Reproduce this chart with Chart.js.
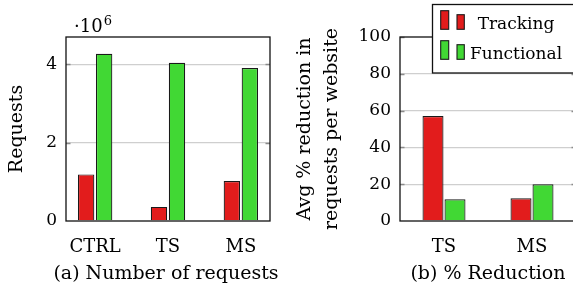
<!DOCTYPE html>
<html>
<head>
<meta charset="utf-8">
<script src="https://cdn.jsdelivr.net/npm/chart.js@4/dist/chart.umd.min.js"></script>
<style>
  html, body { margin:0; padding:0; background:#fff; overflow:hidden; width:573px; height:298px; }
  #wrapA { position:absolute; left:0; top:0; width:290px; height:298px; }
  #wrapB { position:absolute; left:280px; top:0; width:300px; height:298px; }
  .cap { position:absolute; font-family:"DejaVu Serif", serif; font-size:19px; line-height:22px; color:#000; white-space:nowrap; text-align:center; }
</style>
</head>
<body>
<div id="wrapA"><canvas id="chartA" width="290" height="298"></canvas></div>
<div id="wrapB"><canvas id="chartB" width="300" height="298"></canvas></div>
<div class="cap" id="capA" style="left:16px; width:300px; top:261px;">(a) Number of requests</div>
<div class="cap" id="capB" style="left:338px; width:300px; top:261px;">(b) % Reduction</div>
<script>
// ---------- data ----------
const categoriesA = ['CTRL', 'TS', 'MS'];
const trackingRequests = [1.19e6, 0.36e6, 1.02e6];
const functionalRequests = [4.27e6, 4.04e6, 3.91e6];
const yTicksA = [0, 2e6, 4e6];

const categoriesB = ['TS', 'MS'];
const trackingReduction = [57, 12.4];
const functionalReduction = [11.8, 20];
const yTicksB = [0, 20, 40, 60, 80, 100];

const seriesNames = ['Tracking', 'Functional'];
const exponentLabel = ['·10', '6'];
const yTitleA = 'Requests';
const yTitleB = ['Avg % reduction in', 'requests per website'];

// ---------- styles ----------
const RED = '#e21c1c';
const GREEN = '#41d834';
const EDGE = '#1a1a1a';
const FONT = '"DejaVu Serif", serif';

const framePlugin = {
  id: 'frame',
  afterDatasetsDraw(chart) {
    const { ctx, chartArea: a } = chart;
    const y = chart.scales.y;
    ctx.save();
    ctx.strokeStyle = '#8a8a8a';
    ctx.lineWidth = 1.3;
    y.ticks.forEach(t => {
      if (t.value === 0) return;
      const py = Math.round(y.getPixelForValue(t.value)) + 0.5;
      ctx.beginPath();
      ctx.moveTo(a.left, py); ctx.lineTo(a.left + 4.5, py);
      ctx.moveTo(a.right, py); ctx.lineTo(a.right - 4.5, py);
      ctx.stroke();
    });
    ctx.strokeStyle = '#111';
    ctx.lineWidth = 1.3;
    ctx.strokeRect(a.left, a.top, a.right - a.left, a.bottom - a.top);
    ctx.restore();
  }
};

function gridColor(maxV) {
  return c => (c.tick && (c.tick.value === 0 || c.tick.value === maxV)) ? 'rgba(0,0,0,0)' : '#cfcfcf';
}

// ---------- chart A ----------
const exponentPlugin = {
  id: 'exponent',
  afterDraw(chart) {
    const { ctx } = chart;
    ctx.save();
    ctx.fillStyle = '#000';
    ctx.textBaseline = 'alphabetic';
    ctx.textAlign = 'left';
    ctx.font = '18px ' + FONT;
    ctx.fillText(exponentLabel[0], 74, 32);
    const w = ctx.measureText(exponentLabel[0]).width;
    ctx.font = '13px ' + FONT;
    ctx.fillText(exponentLabel[1], 74 + w + 1, 25);
    ctx.restore();
  }
};

new Chart(document.getElementById('chartA'), {
  type: 'bar',
  data: {
    datasets: [
      { label: seriesNames[0], data: trackingRequests.map((v, i) => ({ x: i, y: v })),
        backgroundColor: RED, borderColor: EDGE, borderWidth: 1.2 },
      { label: seriesNames[1], data: functionalRequests.map((v, i) => ({ x: i, y: v })),
        backgroundColor: GREEN, borderColor: EDGE, borderWidth: 1.2 }
    ]
  },
  options: {
    responsive: false,
    animation: false,
    events: [],
    categoryPercentage: 0.494,
    barPercentage: 0.91,
    layout: { padding: { left: 0, top: 37, right: 20, bottom: 0 } },
    plugins: { legend: { display: false }, tooltip: { enabled: false }, title: { display: false } },
    scales: {
      x: {
        type: 'linear', min: -0.4, max: 2.4, offset: false,
        afterBuildTicks: s => { s.ticks = categoriesA.map((c, i) => ({ value: i })); },
        afterFit: s => { s.height = 77; },
        grid: { display: false, drawTicks: false },
        border: { display: false },
        ticks: { callback: v => categoriesA[v], color: '#000', padding: 16, maxRotation: 0, autoSkip: false,
                 font: { family: FONT, size: 18 } }
      },
      y: {
        min: 0, max: 4.7e6,
        afterBuildTicks: s => { s.ticks = yTicksA.map(v => ({ value: v })); },
        afterFit: s => { s.width = 66; },
        grid: { color: gridColor(4.7e6), lineWidth: 1.3, drawTicks: false },
        border: { display: false },
        ticks: { callback: v => String(v / 1e6), color: '#000', padding: 9,
                 font: { family: FONT, size: 17 } },
        title: { display: true, text: yTitleA, color: '#000', padding: { top: 6, bottom: 0 },
                 font: { family: FONT, size: 19, lineHeight: 1.2 } }
      }
    }
  },
  plugins: [framePlugin, exponentPlugin]
});

// ---------- chart B ----------
const legendPlugin = {
  id: 'legendBox',
  afterDraw(chart) {
    const { ctx } = chart;
    const ds = chart.data.datasets;
    ctx.save();
    ctx.fillStyle = '#fff';
    ctx.fillRect(152.5, 4.5, 200, 68.5);
    ctx.strokeStyle = '#111';
    ctx.lineWidth = 1.3;
    ctx.strokeRect(152.5, 4.5, 200, 68.5);
    const rows = [29.3, 59.3];
    ds.forEach((d, i) => {
      const base = rows[i];
      ctx.fillStyle = d.backgroundColor;
      ctx.strokeStyle = EDGE;
      ctx.lineWidth = 1.1;
      ctx.fillRect(160.7, base - 18.6, 8, 18.6);
      ctx.strokeRect(160.7, base - 18.6, 8, 18.6);
      ctx.fillRect(177, base - 14.6, 7.3, 14.6);
      ctx.strokeRect(177, base - 14.6, 7.3, 14.6);
      ctx.fillStyle = '#000';
      ctx.font = '17px ' + FONT;
      ctx.textAlign = 'center';
      ctx.textBaseline = 'alphabetic';
      ctx.fillText(d.label, 236, base);
    });
    ctx.restore();
  }
};

new Chart(document.getElementById('chartB'), {
  type: 'bar',
  data: {
    labels: categoriesB,
    datasets: [
      { label: seriesNames[0], data: trackingReduction, backgroundColor: RED, borderColor: EDGE, borderWidth: 1.2 },
      { label: seriesNames[1], data: functionalReduction, backgroundColor: GREEN, borderColor: EDGE, borderWidth: 1.2 }
    ]
  },
  options: {
    responsive: false,
    animation: false,
    events: [],
    categoryPercentage: 0.5,
    barPercentage: 0.955,
    layout: { padding: { left: 0, top: 37, right: 4, bottom: 0 } },
    plugins: { legend: { display: false }, tooltip: { enabled: false }, title: { display: false } },
    scales: {
      x: {
        type: 'category', offset: true,
        afterFit: s => { s.height = 77; },
        grid: { display: false, drawTicks: false },
        border: { display: false },
        ticks: { color: '#000', padding: 16, maxRotation: 0, autoSkip: false,
                 font: { family: FONT, size: 18 } }
      },
      y: {
        min: 0, max: 100,
        afterBuildTicks: s => { s.ticks = yTicksB.map(v => ({ value: v })); },
        afterFit: s => { s.width = 120; },
        grid: { color: gridColor(100), lineWidth: 1.3, drawTicks: false },
        border: { display: false },
        ticks: { color: '#000', padding: 9, font: { family: FONT, size: 17 } },
        title: { display: true, text: yTitleB, color: '#000', padding: { top: 12, bottom: 0 },
                 font: { family: FONT, size: 19, lineHeight: 1.42 } }
      }
    }
  },
  plugins: [framePlugin, legendPlugin]
});
</script>
</body>
</html>
